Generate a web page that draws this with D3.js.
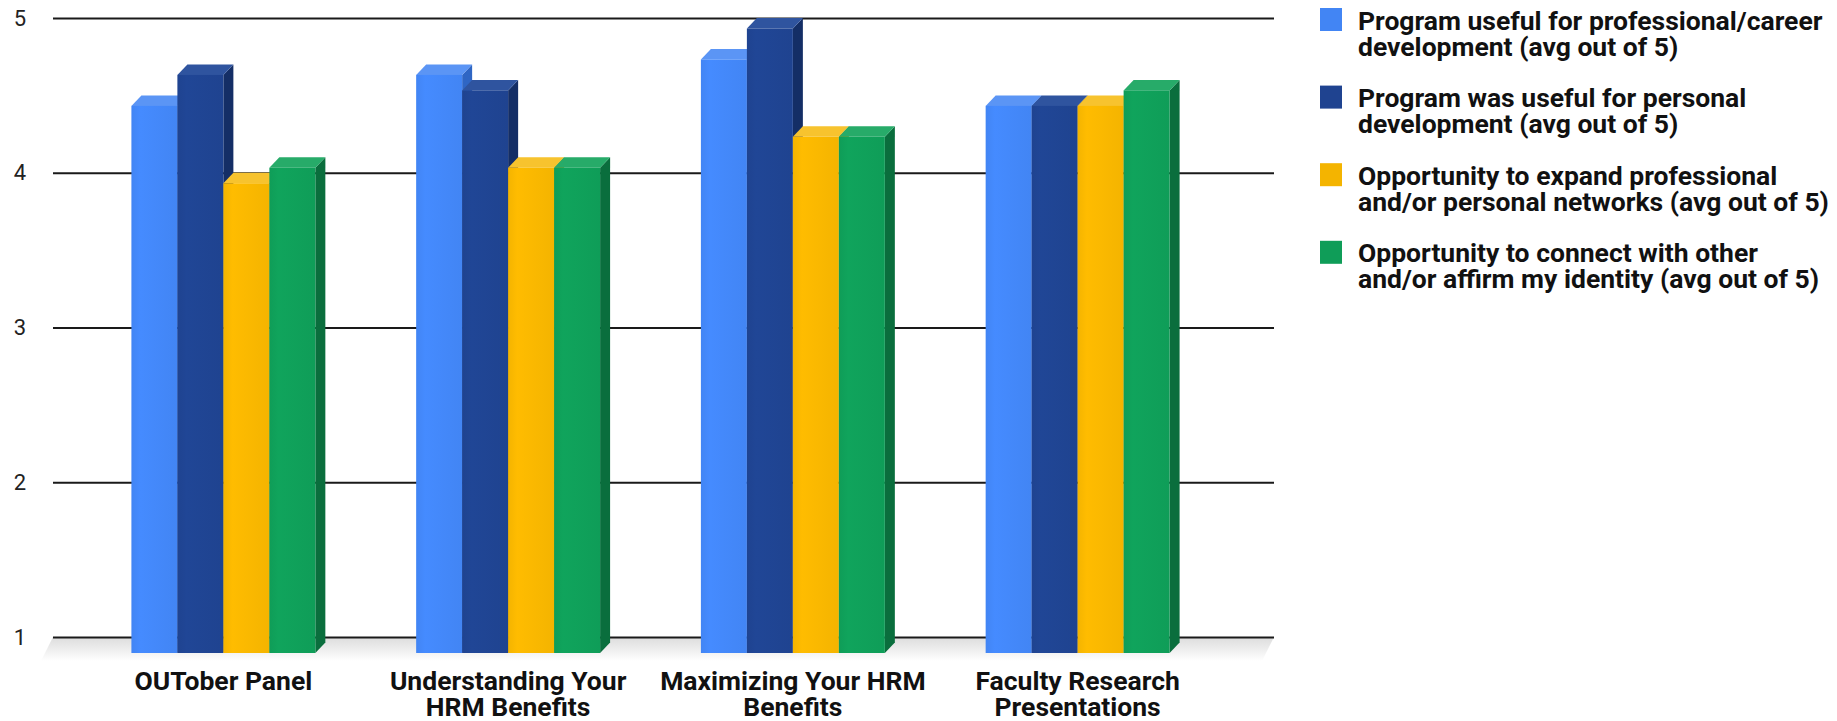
<!DOCTYPE html>
<html>
<head>
<meta charset="utf-8">
<script src="https://cdn.jsdelivr.net/npm/d3@7/dist/d3.min.js"></script>
<style>
  html, body { margin: 0; padding: 0; background: #ffffff; }
  svg { display: block; }
  text { font-family: Roboto, "Noto Sans", sans-serif; }
</style>
</head>
<body>
<svg id="chart" width="1837" height="721"></svg>
<script>
// ---- data ----
const categories = ["OUTober Panel", "Understanding Your HRM Benefits", "Maximizing Your HRM Benefits", "Faculty Research Presentations"];
const categoryLines = [["OUTober Panel"], ["Understanding Your", "HRM Benefits"], ["Maximizing Your HRM", "Benefits"], ["Faculty Research", "Presentations"]];
const seriesNames = [
  "Program useful for professional/career development (avg out of 5)",
  "Program was useful for personal development (avg out of 5)",
  "Opportunity to expand professional and/or personal networks (avg out of 5)",
  "Opportunity to connect with other and/or affirm my identity (avg out of 5)"
];
const legendLines = [
  ["Program useful for professional/career", "development (avg out of 5)"],
  ["Program was useful for personal", "development (avg out of 5)"],
  ["Opportunity to expand professional", "and/or personal networks (avg out of 5)"],
  ["Opportunity to connect with other", "and/or affirm my identity (avg out of 5)"]
];
const careerValues   = [4.5, 4.7, 4.8, 4.5];
const personalValues = [4.7, 4.6, 5.0, 4.5];
const networkValues  = [4.0, 4.1, 4.3, 4.5];
const identityValues = [4.1, 4.1, 4.3, 4.6];
const yTicks = [1, 2, 3, 4, 5];

const seriesValues = [careerValues, personalValues, networkValues, identityValues];
const colors = [
  {front: "#4285f4", top: "#5b95f5", side: "#2f66c4"},
  {front: "#1f4390", top: "#2f549f", side: "#142e66"},
  {front: "#f4b400", top: "#f7c32e", side: "#c48f00"},
  {front: "#0f9d58", top: "#27ab69", side: "#0a6e3d"}
];

// ---- layout ----
const svg = d3.select("#chart");
const wallLeft = 53, wallRight = 1274;
const depthX = 10, depthY = 10.5;
const floorFront = 653;
const fontSize = 26.5, linePitch = 26;

const y = d3.scaleLinear().domain([1, 5]).range([637, 18]);
const x0 = d3.scaleBand().domain(categories).range([81, 1220]).paddingInner(0.354).paddingOuter(0.177);
const x1 = d3.scaleBand().domain(d3.range(seriesNames.length)).range([0, x0.bandwidth()]);

const defs = svg.append("defs");
const fg = defs.append("linearGradient").attr("id", "floorGrad").attr("x1", 0).attr("y1", 0).attr("x2", 0).attr("y2", 1);
fg.append("stop").attr("offset", "0%").attr("stop-color", "#dcdcdc");
fg.append("stop").attr("offset", "100%").attr("stop-color", "#ffffff");
colors.forEach((c, i) => {
  const g = defs.append("linearGradient").attr("id", "front" + i).attr("x1", 0).attr("y1", 0).attr("x2", 1).attr("y2", 0);
  g.append("stop").attr("offset", "0%").attr("stop-color", c.front);
  g.append("stop").attr("offset", "20%").attr("stop-color", d3.color(c.front).brighter(0.12));
  g.append("stop").attr("offset", "100%").attr("stop-color", c.front);
});

// floor
svg.append("path")
  .attr("d", `M${wallLeft},${y(1)}L${wallRight},${y(1)}L${wallRight - 12},${y(1) + 24}L${wallLeft - 12},${y(1) + 24}Z`)
  .attr("fill", "url(#floorGrad)");

// axis with gridlines
const axis = d3.axisLeft(y).tickValues(yTicks).tickFormat(d3.format("d"))
  .tickSizeInner(-(wallRight - wallLeft)).tickSizeOuter(0).tickPadding(27);
const axG = svg.append("g").attr("transform", `translate(${wallLeft},0)`).call(axis);
axG.select(".domain").remove();
axG.selectAll(".tick line").attr("stroke", "#1a1a1a").attr("stroke-width", 2);
axG.selectAll(".tick text").attr("font-size", 22).attr("fill", "#222").attr("font-family", "Roboto, sans-serif");

// bars
const barsG = svg.append("g");
categories.forEach((cat, ci) => {
  seriesValues.forEach((vals, si) => {
    const v = vals[ci];
    const L = x0(cat) + x1(si);
    const R = L + x1.bandwidth();
    const yb = y(v);           // back edge of top face
    const yf = yb + depthY;    // front edge of top face
    const c = colors[si];
    const g = barsG.append("g");
    g.append("path")
      .attr("d", `M${R},${yf}L${R + depthX},${yb}L${R + depthX},${floorFront - depthY}L${R},${floorFront}Z`)
      .attr("fill", c.side);
    g.append("path")
      .attr("d", `M${L},${yf}L${L + depthX},${yb}L${R + depthX},${yb}L${R},${yf}Z`)
      .attr("fill", c.top);
    g.append("rect")
      .attr("x", L).attr("y", yf)
      .attr("width", R - L).attr("height", floorFront - yf)
      .attr("fill", `url(#front${si})`);
  });
});

// category labels (one text element per label, lines as tspans)
categories.forEach((cat, ci) => {
  const cx = x0(cat) + x0.bandwidth() / 2;
  const t = svg.append("text")
    .attr("x", cx).attr("y", 690)
    .attr("text-anchor", "middle")
    .attr("font-size", fontSize).attr("font-weight", "bold").attr("fill", "#111");
  categoryLines[ci].forEach((line, li) => {
    t.append("tspan").attr("x", cx).attr("dy", li === 0 ? 0 : linePitch).text(line);
  });
});

// legend
const legend = svg.append("g");
seriesNames.forEach((name, si) => {
  const top = 8 + si * 77.6;
  legend.append("rect").attr("x", 1320).attr("y", top).attr("width", 22).attr("height", 23)
    .attr("fill", colors[si].front);
  const t = legend.append("text")
    .attr("x", 1358).attr("y", top + 21.5)
    .attr("font-size", fontSize).attr("font-weight", "bold").attr("fill", "#111");
  legendLines[si].forEach((line, li) => {
    t.append("tspan").attr("x", 1358).attr("dy", li === 0 ? 0 : linePitch).text(line);
  });
});
</script>
</body>
</html>
